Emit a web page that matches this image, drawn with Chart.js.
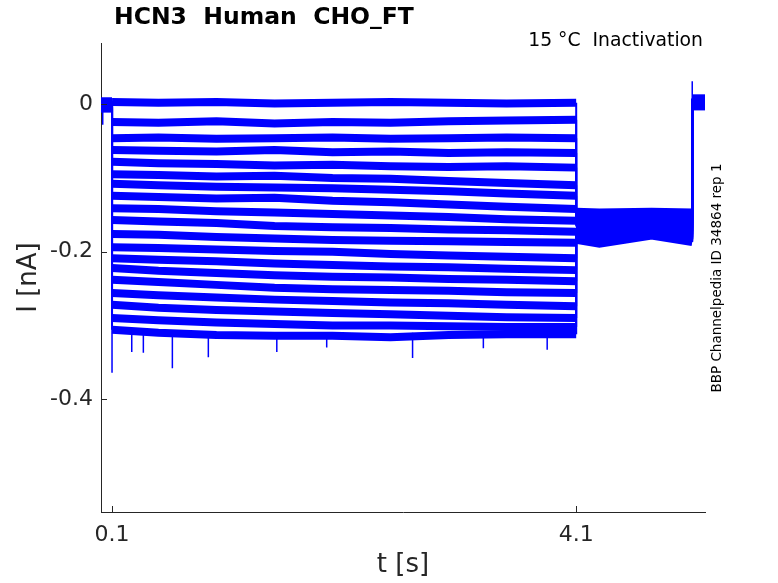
<!DOCTYPE html>
<html lang="en">
<head>
  <meta charset="UTF-8">
  <title>HCN3 Human CHO_FT</title>
  <script src="https://cdn.jsdelivr.net/npm/chart.js"></script>
  <style>
    body { margin: 0; background: #fff; }
    #wrap { width: 778px; height: 583px; }
  </style>
</head>
<body>
  <div id="wrap"><canvas id="chart"></canvas></div>

  <script>
    // time points (s) of each protocol phase
    const preT = [0.005, 0.1];
    const pulseT = [0.1, 0.5, 1.0, 1.5, 2.0, 2.5, 3.0, 3.5, 4.1];
    const tailT = [4.1, 4.3, 4.75, 5.1];
    const endT = [5.1, 5.21];

    // current (nA) of each sweep
    const preI = [0.004, 0.003, 0.002, 0.001, 0.000, -0.001, -0.002, -0.003, -0.004, -0.005,
                  0.003, 0.001, -0.001, -0.003, 0.002, 0.000, -0.002, -0.004, -0.006];
    const pulseI = [
      [0.003, 0.002, 0.003, 0.001, 0.002, 0.003, 0.002, 0.001, 0.002],
      [-0.024, -0.025, -0.023, -0.026, -0.024, -0.025, -0.023, -0.022, -0.021],
      [-0.046, -0.045, -0.047, -0.046, -0.045, -0.047, -0.046, -0.045, -0.046],
      [-0.062, -0.063, -0.064, -0.062, -0.065, -0.064, -0.066, -0.065, -0.066],
      [-0.078, -0.080, -0.081, -0.083, -0.082, -0.084, -0.085, -0.084, -0.086],
      [-0.095, -0.096, -0.098, -0.097, -0.100, -0.101, -0.104, -0.107, -0.110],
      [-0.108, -0.110, -0.112, -0.113, -0.114, -0.116, -0.118, -0.121, -0.124],
      [-0.124, -0.126, -0.128, -0.127, -0.131, -0.133, -0.136, -0.139, -0.142],
      [-0.141, -0.142, -0.145, -0.147, -0.149, -0.151, -0.153, -0.156, -0.158],
      [-0.157, -0.159, -0.161, -0.165, -0.167, -0.168, -0.170, -0.171, -0.173],
      [-0.176, -0.177, -0.180, -0.182, -0.184, -0.185, -0.186, -0.187, -0.188],
      [-0.194, -0.195, -0.197, -0.199, -0.200, -0.203, -0.205, -0.207, -0.209],
      [-0.209, -0.211, -0.213, -0.216, -0.218, -0.220, -0.221, -0.223, -0.225],
      [-0.222, -0.226, -0.229, -0.232, -0.234, -0.235, -0.237, -0.238, -0.240],
      [-0.238, -0.241, -0.245, -0.249, -0.251, -0.252, -0.253, -0.255, -0.256],
      [-0.256, -0.259, -0.262, -0.265, -0.267, -0.269, -0.270, -0.272, -0.274],
      [-0.272, -0.276, -0.279, -0.281, -0.283, -0.285, -0.287, -0.289, -0.290],
      [-0.290, -0.293, -0.296, -0.298, -0.300, -0.300, -0.301, -0.302, -0.302],
      [-0.306, -0.310, -0.313, -0.314, -0.314, -0.316, -0.313, -0.312, -0.312]
    ];
    const tailI = [
      [-0.146, -0.147, -0.146, -0.147],
      [-0.149, -0.150, -0.149, -0.150],
      [-0.152, -0.153, -0.151, -0.153],
      [-0.155, -0.156, -0.154, -0.156],
      [-0.158, -0.159, -0.156, -0.159],
      [-0.160, -0.162, -0.158, -0.161],
      [-0.162, -0.164, -0.160, -0.164],
      [-0.164, -0.167, -0.162, -0.166],
      [-0.166, -0.169, -0.164, -0.168],
      [-0.168, -0.171, -0.166, -0.170],
      [-0.170, -0.173, -0.168, -0.172],
      [-0.172, -0.175, -0.169, -0.174],
      [-0.174, -0.177, -0.171, -0.176],
      [-0.176, -0.179, -0.172, -0.178],
      [-0.178, -0.181, -0.174, -0.180],
      [-0.179, -0.183, -0.175, -0.182],
      [-0.181, -0.185, -0.176, -0.183],
      [-0.182, -0.187, -0.177, -0.185],
      [-0.184, -0.189, -0.178, -0.187]
    ];
    const endI = [0.008, 0.007, 0.006, 0.005, 0.004, 0.003, 0.002, 0.001, 0.000, -0.001,
                  -0.002, -0.003, 0.007, 0.005, 0.003, 0.001, -0.001, -0.002, 0.004];

    // transients: time, start level, peak level
    const spikeT = [0.02, 0.1, 0.27, 0.37, 0.62, 0.93, 1.52, 1.95, 2.69, 3.3, 3.85, 5.1];
    const spikeFrom = [0.0, 0.0, -0.31, -0.31, -0.31, -0.31, -0.31, -0.31, -0.31, -0.31, -0.31, -0.16];
    const spikeTo = [-0.028, -0.364, -0.336, -0.337, -0.358, -0.343, -0.336, -0.330, -0.344, -0.331, -0.333, 0.031];

    const xTicks = [0.1, 4.1];
    const xTickLabels = ['0.1', '4.1'];
    const yTicks = [0, -0.2, -0.4];
    const yTickLabels = ['0', '-0.2', '-0.4'];

    const BLUE = '#0000ff';
    const AXIS = '#262626';
    const FONT = '"DejaVu Sans", sans-serif';

    const datasets = pulseI.map((pulse, i) => {
      const pts = [];
      preT.forEach(t => pts.push({ x: t, y: preI[i] }));
      pulseT.forEach((t, k) => pts.push({ x: t, y: pulse[k] }));
      tailT.forEach((t, k) => pts.push({ x: t, y: tailI[i][k] }));
      endT.forEach(t => pts.push({ x: t, y: endI[i] }));
      return {
        data: pts,
        borderColor: BLUE,
        borderWidth: 8,
        pointRadius: 0,
        tension: 0,
        segment: {
          // step edges stay thin, noisy plateaus are drawn as wide bands
          borderWidth: c => c.p0.parsed.x === c.p1.parsed.x ? 2 : 8
        }
      };
    });

    const spikePts = [];
    spikeT.forEach((t, k) => {
      spikePts.push({ x: t, y: spikeFrom[k] }, { x: t, y: spikeTo[k] }, { x: t, y: null });
    });
    datasets.push({
      data: spikePts,
      borderColor: BLUE,
      borderWidth: 1.5,
      pointRadius: 0,
      spanGaps: false
    });

    // inward tick marks and free text
    const decor = {
      id: 'decor',
      afterDraw(chart) {
        const { ctx, chartArea: a, scales } = chart;
        ctx.save();
        ctx.strokeStyle = AXIS;
        ctx.lineWidth = 1;
        ctx.beginPath();
        xTicks.forEach(v => {
          const px = Math.round(scales.x.getPixelForValue(v)) + 0.5;
          ctx.moveTo(px, a.bottom); ctx.lineTo(px, a.bottom - 6);
        });
        yTicks.forEach(v => {
          const py = Math.round(scales.y.getPixelForValue(v)) + 0.5;
          ctx.moveTo(a.left, py); ctx.lineTo(a.left + 6, py);
        });
        ctx.stroke();

        ctx.fillStyle = '#000';
        ctx.textBaseline = 'middle';
        ctx.textAlign = 'left';
        ctx.font = 'bold 23.5px ' + FONT;
        ctx.fillText('HCN3  Human  CHO_FT', 114, 18);

        ctx.textAlign = 'right';
        ctx.font = '18.8px ' + FONT;
        ctx.fillText('15 °C  Inactivation', 703, 41);

        ctx.translate(717, 278);
        ctx.rotate(-Math.PI / 2);
        ctx.textAlign = 'center';
        ctx.font = '13.5px ' + FONT;
        ctx.fillText('BBP Channelpedia ID 34864 rep 1', 0, 0);
        ctx.restore();
      }
    };

    new Chart(document.getElementById('chart'), {
      type: 'line',
      data: { datasets },
      plugins: [decor],
      options: {
        responsive: true,
        maintainAspectRatio: false,
        animation: false,
        layout: { padding: { top: 43, right: 73, left: 0, bottom: 0 } },
        plugins: {
          legend: { display: false },
          tooltip: { enabled: false }
        },
        scales: {
          x: {
            type: 'linear',
            min: 0.005,
            max: 5.21,
            afterBuildTicks: s => { s.ticks = xTicks.map(v => ({ value: v })); },
            afterFit: s => { s.height = 71; },
            grid: { display: false, drawTicks: false },
            border: { display: true, color: AXIS, width: 1 },
            ticks: {
              autoSkip: false,
              maxRotation: 0,
              padding: 10,
              color: AXIS,
              font: { family: FONT, size: 22 },
              callback: (v, i) => xTickLabels[i]
            },
            title: {
              display: true,
              text: 't [s]',
              color: AXIS,
              font: { family: FONT, size: 26 },
              padding: { top: 0, bottom: 2 }
            }
          },
          y: {
            type: 'linear',
            min: -0.553,
            max: 0.083,
            afterBuildTicks: s => { s.ticks = yTicks.map(v => ({ value: v })); },
            afterFit: s => { s.width = 101; },
            grid: { display: false, drawTicks: false },
            border: { display: true, color: AXIS, width: 1 },
            ticks: {
              autoSkip: false,
              padding: 8,
              color: AXIS,
              font: { family: FONT, size: 22 },
              callback: (v, i) => yTickLabels[i]
            },
            title: {
              display: true,
              text: 'I [nA]',
              color: AXIS,
              font: { family: FONT, size: 26 },
              padding: { top: 14, bottom: 0 }
            }
          }
        }
      }
    });
  </script>
</body>
</html>
